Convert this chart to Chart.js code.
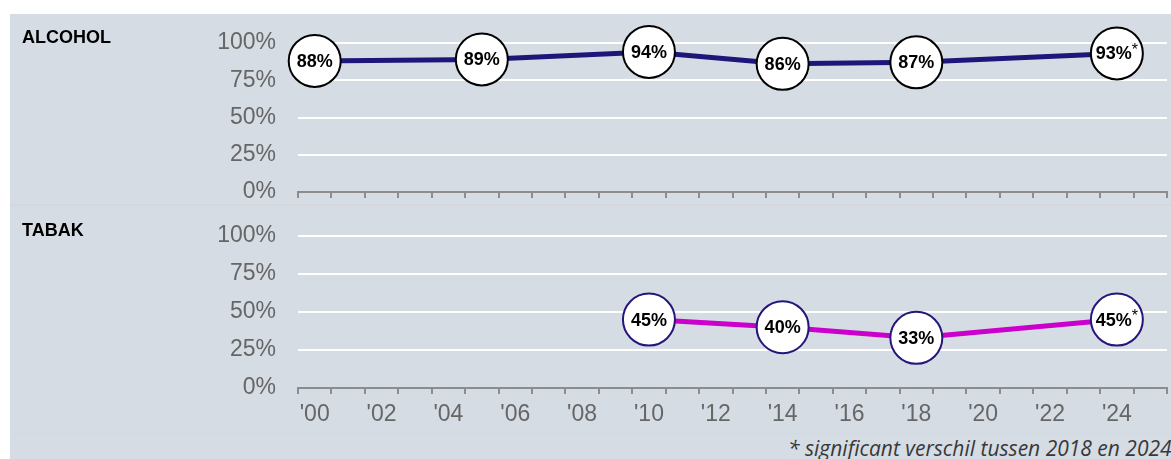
<!DOCTYPE html>
<html>
<head>
<meta charset="utf-8">
<script src="https://cdn.jsdelivr.net/npm/chart.js@4.4.1/dist/chart.umd.min.js"></script>
<style>
  html, body { margin: 0; padding: 0; background: #fff; width: 1171px; height: 459px; overflow: hidden; }
  .panel { position: absolute; left: 10px; width: 1161px; background: #d6dce4; }
  #p-alcohol { top: 14px; height: 190px; }
  #p-tabak { top: 206px; height: 227px; }
  #sep1 { position: absolute; left: 10px; top: 204px; width: 1161px; height: 2px; background: #d4d7db; }
  #sep2 { position: absolute; left: 10px; top: 433px; width: 1161px; height: 1px; background: #d8d8d4; }
  #p-note { top: 434px; height: 25px; overflow: hidden; }
  .title { position: absolute; left: 12px; font: bold 18px "Liberation Sans", Arial, sans-serif; line-height: 18px; color: #000; }
  canvas { position: absolute; left: 0; top: 0; }
  #note { position: absolute; left: 778px; top: 2px; font: italic 21px "Open Sans", sans-serif; line-height: 25px; color: #383838; white-space: nowrap; }
</style>
</head>
<body>
<div class="panel" id="p-alcohol">
  <canvas id="c-alcohol" width="1161" height="190"></canvas>
  <div class="title" style="top:14px">ALCOHOL</div>
</div>
<div id="sep1"></div>
<div class="panel" id="p-tabak">
  <canvas id="c-tabak" width="1161" height="227"></canvas>
  <div class="title" style="top:15px">TABAK</div>
</div>
<div id="sep2"></div>
<div class="panel" id="p-note">
  <div id="note">* significant verschil tussen 2018 en 2024</div>
</div>
<script>
// survey years on the x axis, one band per year
const years = ['2000', '2001', '2002', '2003', '2004', '2005', '2006', '2007', '2008',
  '2009', '2010', '2011', '2012', '2013', '2014', '2015', '2016', '2017', '2018',
  '2019', '2020', '2021', '2022', '2023', '2024', '2025'];

const alcoholYears = ['2000', '2005', '2010', '2014', '2018', '2024'];
const alcoholValues = [88, 89, 94, 86, 87, 93];
const alcoholSignificant = [false, false, false, false, false, true];

const tabakYears = ['2010', '2014', '2018', '2024'];
const tabakValues = [45, 40, 33, 45];
const tabakSignificant = [false, false, false, true];

const FONT = '"Liberation Sans", Arial, sans-serif';

// percentage text inside each circle, with a small asterisk for significant changes
const pointLabels = {
  id: 'pointLabels',
  afterDatasetsDraw(chart) {
    const ctx = chart.ctx;
    chart.data.datasets.forEach((ds, i) => {
      const meta = chart.getDatasetMeta(i);
      meta.data.forEach((pt, j) => {
        const main = ds.data[j].y + '%';
        const star = ds.significant[j] ? '*' : '';
        ctx.save();
        ctx.fillStyle = '#000';
        ctx.textBaseline = 'middle';
        ctx.textAlign = 'left';
        ctx.font = 'bold 18px ' + FONT;
        const w1 = ctx.measureText(main).width;
        ctx.font = '16px ' + FONT;
        const w2 = star ? ctx.measureText(star).width : 0;
        const x0 = pt.x - (w1 + w2) / 2;
        ctx.font = 'bold 18px ' + FONT;
        ctx.fillText(main, x0, pt.y + 1);
        if (star) {
          ctx.font = '16px ' + FONT;
          ctx.fillText(star, x0 + w1, pt.y - 3);
        }
        ctx.restore();
      });
    });
  }
};

function makePanel(id, xs, values, significant, lineColor, ringColor, showYears, top, xHeight) {
  return new Chart(document.getElementById(id), {
    type: 'line',
    data: {
      labels: years,
      datasets: [{
        data: xs.map((x, i) => ({ x: x, y: values[i] })),
        significant: significant,
        borderColor: lineColor,
        borderWidth: 5,
        tension: 0,
        pointRadius: 26,
        pointHoverRadius: 26,
        pointBackgroundColor: '#fff',
        pointBorderColor: ringColor,
        pointBorderWidth: 2,
        pointHoverBorderWidth: 2,
        clip: false
      }]
    },
    options: {
      responsive: false,
      animation: false,
      devicePixelRatio: 1,
      events: [],
      layout: { autoPadding: false, padding: { left: 0, right: 4, top: top, bottom: 0 } },
      plugins: { legend: { display: false }, tooltip: { enabled: false } },
      scales: {
        x: {
          type: 'category',
          offset: true,
          grid: {
            offset: true,
            drawOnChartArea: false,
            color: '#8c8c8c',
            lineWidth: 2,
            tickLength: 6
          },
          border: { color: '#8c8c8c', width: 2 },
          ticks: {
            display: showYears,
            autoSkip: false,
            maxRotation: 0,
            color: '#666',
            font: { family: FONT, size: 23 },
            padding: 7,
            callback: function (v, idx) {
              if (idx % 2 !== 0) return '';
              return "'" + years[idx].slice(2);
            }
          },
          afterFit(scale) { scale.height = xHeight; }
        },
        y: {
          min: 0,
          max: 100,
          grid: {
            color: c => (c.tick.value === 0 ? 'rgba(0,0,0,0)' : '#fff'),
            lineWidth: 2,
            drawTicks: false
          },
          border: { display: false },
          ticks: {
            stepSize: 25,
            color: '#666',
            padding: 22,
            font: { family: FONT, size: 23 },
            callback: v => v + '%'
          },
          afterFit(scale) {
            scale.width = 288;
            // the plot edges are set by layout.padding alone
            scale.paddingTop = 0;
            scale.paddingBottom = 0;
          }
        }
      }
    },
    plugins: [pointLabels]
  });
}

makePanel('c-alcohol', alcoholYears, alcoholValues, alcoholSignificant, '#1f167a', '#000', false, 29, 12);
makePanel('c-tabak', tabakYears, tabakValues, tabakSignificant, '#cc00cc', '#24167a', true, 30, 45);
</script>
</body>
</html>
